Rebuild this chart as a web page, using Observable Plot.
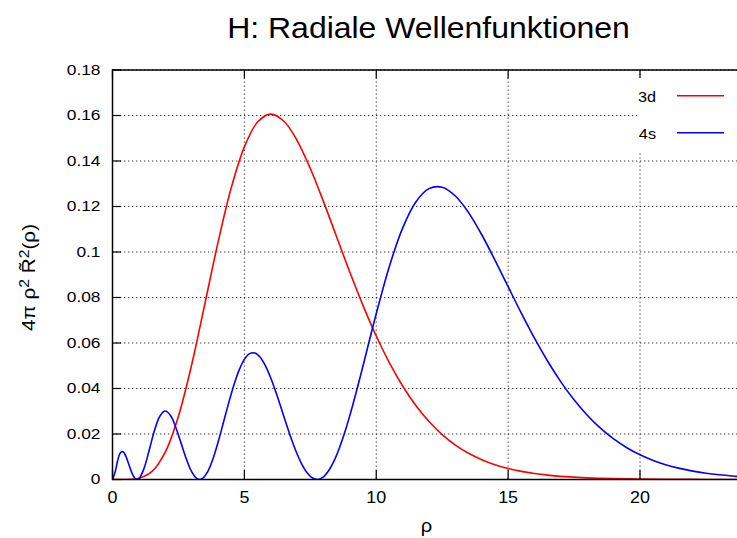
<!DOCTYPE html>
<html><head><meta charset="utf-8">
<script src="https://cdn.jsdelivr.net/npm/d3@7"></script>
<script src="https://cdn.jsdelivr.net/npm/@observablehq/plot@0.6"></script>
<style>
html,body{margin:0;padding:0;background:#fff;overflow:hidden;}
#chart{width:737px;height:538px;overflow:hidden;}
</style></head><body><div id="chart"></div>
<script>
const title = "H: Radiale Wellenfunktionen";
const xLabel = "ρ";
const seriesNames = ["3d", "4s"];
const seriesColors = ["#ff0000", "#0000ff"];
const xTicks = [0, 5, 10, 15, 20];
const yTicks = [0, 0.02, 0.04, 0.06, 0.08, 0.1, 0.12, 0.14, 0.16, 0.18];

const rho3d = [0, 0.5, 1, 1.5, 2, 2.5, 3, 3.5, 4, 4.5, 5, 5.5, 6, 6.5, 7, 7.5, 8, 8.5, 9, 9.5, 10,
  10.5, 11, 11.5, 12, 12.5, 13, 13.5, 14, 14.5, 15, 15.5, 16, 16.5, 17, 18, 19, 20, 21, 22, 23, 24];
const p3d = [0, 0.00001, 0.00051, 0.00353, 0.01203, 0.02783, 0.05041, 0.07710, 0.10420, 0.12812, 0.14622,
  0.15712, 0.16062, 0.15748, 0.14900, 0.13672, 0.12214, 0.10658, 0.09109, 0.07642, 0.06306,
  0.05125, 0.04109, 0.03254, 0.02548, 0.01974, 0.01515, 0.01153, 0.00870, 0.00651, 0.00484,
  0.00357, 0.00262, 0.00191, 0.00139, 0.00072, 0.00037, 0.00018, 0.00009, 0.00004, 0.00002, 0.00001];

const rho4s = [0, 0.1, 0.2, 0.3, 0.4, 0.5, 0.6, 0.7, 0.8, 0.9, 0.935, 1.0, 1.2, 1.4, 1.6, 1.8, 2.0, 2.2, 2.4, 2.6, 2.8,
  3.0, 3.2, 3.305, 3.4, 3.6, 3.8, 4.0, 4.2, 4.4, 4.6, 4.8, 5.0, 5.2, 5.4, 5.6, 5.8, 6.0, 6.2, 6.4, 6.6, 6.8,
  7.0, 7.2, 7.4, 7.6, 7.76, 7.8, 8.0, 8.2, 8.4, 8.6, 8.8, 9.0, 9.2, 9.4, 9.6, 9.8, 10,
  10.5, 11, 11.5, 12, 12.5, 13, 13.5, 14, 14.5, 15, 15.5, 16, 16.5, 17, 17.5, 18, 18.5, 19, 19.5,
  20, 20.5, 21, 21.5, 22, 22.5, 23, 23.5, 24];
const p4s = [0, 0.00331, 0.00848, 0.01176, 0.01222, 0.01037, 0.00726, 0.00397, 0.00140, 0.00010, 0, 0.00032,
  0.00501, 0.01327, 0.02183, 0.02794, 0.03008, 0.02809, 0.02289, 0.01599, 0.00903,
  0.00350, 0.00043, 0, 0.00035, 0.00328, 0.00882, 0.01628, 0.02480, 0.03347, 0.04145, 0.04806, 0.05279,
  0.05533, 0.05562, 0.05374, 0.04994, 0.04462, 0.03820, 0.03119, 0.02405, 0.01726,
  0.01121, 0.00624, 0.00262, 0.00052, 0, 0.00004, 0.00119, 0.00395, 0.00819, 0.01377, 0.02051, 0.02819,
  0.03659, 0.04548, 0.05464, 0.06384, 0.07289,
  0.09377, 0.11052, 0.12199, 0.12785, 0.12846, 0.12460, 0.11729, 0.10758, 0.09645, 0.08475, 0.07314,
  0.06211, 0.05198, 0.04293, 0.03502, 0.02825, 0.02255, 0.01783, 0.01398,
  0.01086, 0.00838, 0.00642, 0.00488, 0.00369, 0.00277, 0.00207, 0.00154, 0.00113];

const data3d = rho3d.map((r, i) => ({rho: r, p: p3d[i]}));
const data4s = rho4s.map((r, i) => ({rho: r, p: p4s[i]}));

const FONT = "'Liberation Sans', Arial, Helvetica, sans-serif";
const SX = 1.12;
const gridStyle = {stroke: "#000", strokeOpacity: 0.8, strokeDasharray: "1.3,2.7", strokeWidth: 1};

const plot = Plot.plot({
  width: 745, height: 538,
  marginLeft: 112, marginRight: 0, marginTop: 69.5, marginBottom: 59,
  style: {fontFamily: FONT, maxWidth: "none", background: "#fff", color: "#000"},
  x: {domain: [0, 24]},
  y: {domain: [0, 0.18]},
  marks: [
    Plot.gridX(xTicks, gridStyle),
    Plot.gridY(yTicks, gridStyle),
    Plot.line(data3d, {x: "rho", y: "p", stroke: seriesColors[0], strokeWidth: 1.6, curve: "catmull-rom", clip: true}),
    Plot.line(data4s, {x: "rho", y: "p", stroke: seriesColors[1], strokeWidth: 1.6, curve: "catmull-rom", clip: true}),
    Plot.axisX(xTicks, {anchor: "bottom", tickSize: 0, tickPadding: 12.5, fontSize: 16, label: null}),
    Plot.axisX(xTicks, {anchor: "bottom", tickSize: -9, text: null, label: null, strokeWidth: 1.2}),
    Plot.axisX(xTicks, {anchor: "top", tickSize: -8, text: null, label: null, strokeWidth: 1.2}),
    Plot.axisY(yTicks, {anchor: "left", tickSize: 0, tickPadding: 12, fontSize: 15.5, label: null,
      tickFormat: d => String(+d.toFixed(2))}),
    Plot.axisY(yTicks, {anchor: "left", tickSize: -9, text: null, label: null, strokeWidth: 1.2}),
    Plot.frame({stroke: "#000", strokeWidth: 1.5})
  ]
});

// horizontally widen Plot's tick labels to match the reference glyph proportions
d3.select(plot).selectAll("text").each(function() {
  const el = this;
  let t = el.getAttribute("transform") || "";
  const xa = el.getAttribute("x");
  if (xa !== null && !isNaN(+xa)) { t += ` translate(${+xa},0)`; el.removeAttribute("x"); }
  el.setAttribute("transform", t + ` scale(${SX},1)`);
});

const svg = d3.select(plot);

// title
svg.append("text")
  .attr("transform", `translate(428.5,38.3) scale(1.11,1)`)
  .attr("text-anchor", "middle").attr("font-size", 28.8).attr("fill", "#000")
  .style("font-family", FONT).text(title);

// x label
svg.append("text")
  .attr("transform", `translate(426.5,531.5) scale(${SX},1)`)
  .attr("text-anchor", "middle").attr("font-size", 18).attr("fill", "#000")
  .style("font-family", FONT).text(xLabel);

// y label
const yl = svg.append("text")
  .attr("transform", `translate(35,277.5) rotate(-90) scale(${SX},1)`)
  .attr("text-anchor", "middle").attr("font-size", 18.5).attr("fill", "#000")
  .style("font-family", FONT).style("white-space", "pre");
yl.append("tspan").text("4π ρ");
yl.append("tspan").attr("font-size", 14).attr("dy", -6).text("2");
yl.append("tspan").attr("dy", 6).text(" R\u0303");
yl.append("tspan").attr("font-size", 14).attr("dy", -6).text("2");
yl.append("tspan").attr("dy", 6).text("(ρ)");

// legend
svg.append("rect").attr("x", 637.5).attr("y", 78).attr("width", 100).attr("height", 73).attr("fill", "#fff");
const legY = [95.7, 132.7];
seriesNames.forEach((name, i) => {
  svg.append("text")
    .attr("transform", `translate(656,${legY[i] + 6.6}) scale(${SX},1)`)
    .attr("text-anchor", "end").attr("font-size", 14.5).attr("fill", "#000")
    .style("font-family", FONT).text(name);
  svg.append("line").attr("x1", 677).attr("x2", 724).attr("y1", legY[i]).attr("y2", legY[i])
    .attr("stroke", seriesColors[i]).attr("stroke-width", 1.6);
});

document.getElementById("chart").appendChild(plot);
</script></body></html>
